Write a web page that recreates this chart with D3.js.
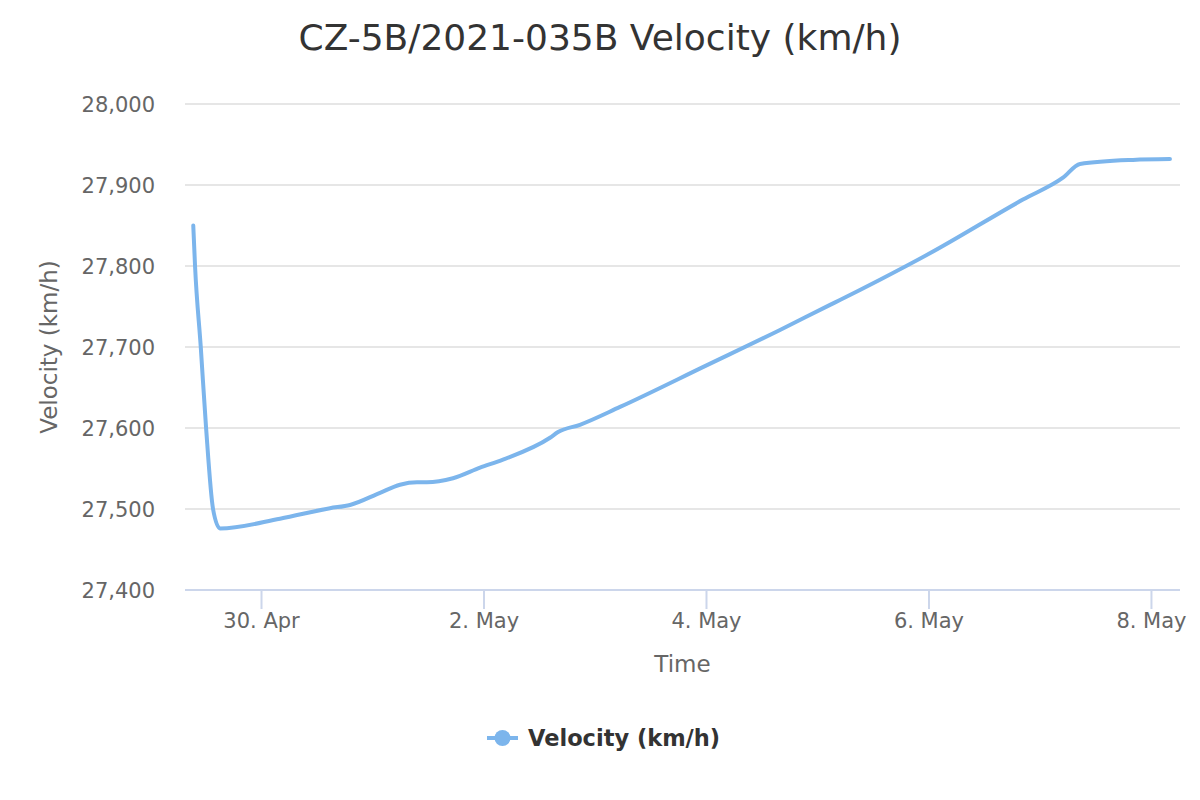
<!DOCTYPE html>
<html>
<head>
<meta charset="utf-8">
<script src="https://cdn.jsdelivr.net/npm/d3@7"></script>
<style>
  html, body { margin: 0; padding: 0; background: #fff; }
  svg { display: block; font-family: "DejaVu Sans", Verdana, sans-serif; }
</style>
</head>
<body>
<svg id="chart" width="1200" height="800"></svg>
<script>
// ---- data ----
const times = [
  "2021-04-29T09:23", "2021-04-29T09:46", "2021-04-29T11:00", "2021-04-29T12:09",
  "2021-04-29T13:39", "2021-04-29T15:09", "2021-04-30T04:06", "2021-04-30T14:53",
  "2021-04-30T19:12", "2021-05-01T01:41", "2021-05-01T05:59", "2021-05-01T09:39",
  "2021-05-01T11:48", "2021-05-01T17:25", "2021-05-01T23:15", "2021-05-02T04:12",
  "2021-05-02T14:21", "2021-05-02T16:05", "2021-05-02T20:48", "2021-05-03T05:27",
  "2021-05-04T00:00", "2021-05-04T15:58", "2021-05-05T02:46", "2021-05-05T04:54",
  "2021-05-05T13:32", "2021-05-06T00:06", "2021-05-06T20:23", "2021-05-07T05:01",
  "2021-05-07T08:41", "2021-05-07T20:07", "2021-05-08T04:06"
];
const velocity = [
  27850, 27800, 27700, 27600,
  27500, 27476, 27488, 27501,
  27505, 27520, 27530, 27533,
  27533, 27538, 27551, 27561,
  27588, 27595, 27604, 27626,
  27677, 27721, 27752, 27758,
  27783, 27815, 27882, 27909,
  27926, 27931, 27932
];
const yTicks = [27400, 27500, 27600, 27700, 27800, 27900, 28000];
const xTickDates = ["2021-04-30", "2021-05-02", "2021-05-04", "2021-05-06", "2021-05-08"];
const xDomain = ["2021-04-29T07:36", "2021-05-08T06:16"];
const yDomain = [27400, 28000];
const titleText = "CZ-5B/2021-035B Velocity (km/h)";
const xTitle = "Time";
const yTitle = "Velocity (km/h)";
const seriesName = "Velocity (km/h)";

// ---- drawing ----
(function () {
const parse = d3.utcParse("%Y-%m-%dT%H:%M");
const parseDay = d3.utcParse("%Y-%m-%d");
const data = times.map((t, i) => ({ t: parse(t), v: velocity[i] }));

const svg = d3.select("#chart");
const pL = 185, pR = 1180, pT = 104, pB = 590;
const color = "#7cb5ec";

const x = d3.scaleUtc().domain(xDomain.map(parse)).range([pL, pR]);
const y = d3.scaleLinear().domain(yDomain).range([pB, pT]);

// title
svg.append("text")
  .attr("x", 600).attr("y", 50)
  .attr("text-anchor", "middle")
  .attr("fill", "#333333")
  .style("font-size", "36px")
  .text(titleText);

// grid lines
svg.append("g").selectAll("line")
  .data(yTicks.filter(d => d !== yDomain[0]))
  .join("line")
  .attr("x1", pL).attr("x2", pR)
  .attr("y1", d => y(d)).attr("y2", d => y(d))
  .attr("stroke", "#e6e6e6").attr("stroke-width", 2);

// y axis labels
const yAxis = d3.axisLeft(y).tickValues(yTicks).tickSize(0).tickPadding(0)
  .tickFormat(d3.format(","));
const gy = svg.append("g").attr("transform", `translate(${pL - 30},0)`).call(yAxis);
gy.select(".domain").remove();
gy.selectAll("text").attr("fill", "#666666").style("font-size", "21px")
  .style("font-family", "'DejaVu Sans', Verdana, sans-serif")
  .attr("dy", "0.35em");

// x axis
const xAxis = d3.axisBottom(x).tickValues(xTickDates.map(parseDay))
  .tickSize(19).tickPadding(4).tickFormat(d3.utcFormat("%-d. %b"));
const gx = svg.append("g").attr("transform", `translate(0,${pB})`).call(xAxis);
gx.select(".domain").attr("stroke", "#ccd6eb").attr("stroke-width", 2)
  .attr("d", `M${pL},0H${pR}`);
gx.selectAll(".tick line").attr("stroke", "#ccd6eb").attr("stroke-width", 2);
gx.selectAll("text").attr("fill", "#666666").style("font-size", "21px")
  .style("font-family", "'DejaVu Sans', Verdana, sans-serif");

// axis titles
svg.append("text")
  .attr("x", (pL + pR) / 2).attr("y", 672)
  .attr("text-anchor", "middle").attr("fill", "#666666")
  .style("font-size", "23px").text(xTitle);
svg.append("text")
  .attr("transform", `translate(57,${(pT + pB) / 2}) rotate(-90)`)
  .attr("text-anchor", "middle").attr("fill", "#666666")
  .style("font-size", "23px").text(yTitle);

// line
const line = d3.line().x(d => x(d.t)).y(d => y(d.v)).curve(d3.curveMonotoneX);
svg.append("path").datum(data)
  .attr("d", line)
  .attr("fill", "none").attr("stroke", color)
  .attr("stroke-width", 4).attr("stroke-linejoin", "round").attr("stroke-linecap", "round");

// legend
const lg = svg.append("g").attr("transform", "translate(487,738)");
lg.append("line").attr("x1", 0).attr("x2", 31).attr("y1", 0).attr("y2", 0)
  .attr("stroke", color).attr("stroke-width", 4);
lg.append("circle").attr("cx", 15.5).attr("cy", 0).attr("r", 8).attr("fill", color);
lg.append("text").attr("x", 41).attr("y", 8)
  .attr("fill", "#333333").style("font-size", "22.5px").style("font-weight", "bold")
  .text(seriesName);
})();
</script>
</body>
</html>
